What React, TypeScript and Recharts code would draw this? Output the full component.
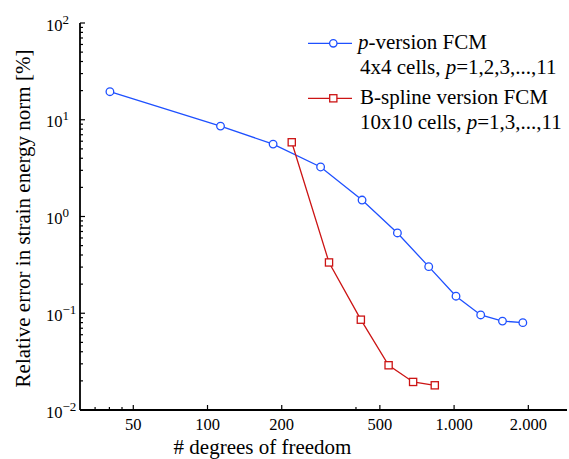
import React from 'react';
import { LineChart, Line, XAxis, YAxis, Customized } from 'recharts';

// p-version FCM, 4x4 cells, p=1..11
const pDof = [40.2, 112.9, 184.5, 287.5, 423.4, 589, 789, 1018, 1282, 1571, 1900];
const pErr = [19.5, 8.6, 5.6, 3.25, 1.48, 0.676, 0.303, 0.15, 0.096, 0.083, 0.08];
// B-spline version FCM, 10x10 cells, p=1,3,...,11
const bDof = [219.6, 311, 418.6, 542.5, 682, 835];
const bErr = [5.85, 0.335, 0.0858, 0.029, 0.0195, 0.018];

const xMajorTicks = [50, 100, 200, 500, 1000, 2000];
const xMajorLabels = ['50', '100', '200', '500', '1.000', '2.000'];
const xMinorTicks = [35, 40, 45, 400];
const yMajorTicks = [0.01, 0.1, 1, 10, 100];
const yExponents = ['\u22122', '\u22121', '0', '1', '2'];
const yMantissas = [2, 3, 4, 5, 6, 7, 8, 9];

const BLUE = '#1e50ff';
const RED = '#cc1414';
const FONT = "'Liberation Serif', Tinos, 'Times New Roman', Times, 'DejaVu Serif', serif";
const TXT = { fontFamily: FONT };

const pData = pDof.map((x, i) => ({ x, y: pErr[i] }));
const bData = bDof.map((x, i) => ({ x, y: bErr[i] }));

const yMinorTicks: number[] = [];
for (let d = 0; d < yMajorTicks.length - 1; d++) {
  for (const m of yMantissas) yMinorTicks.push(Number((yMajorTicks[d] * m).toPrecision(3)));
}
const xAllTicks = [...xMajorTicks, ...xMinorTicks].sort((a, b) => a - b);
const yAllTicks = [...yMajorTicks, ...yMinorTicks].sort((a, b) => a - b);

const isMajor = (arr: number[], v: number) => arr.some((t) => Math.abs(t - v) / t < 1e-6);

const BottomTick = (props: any) => {
  const { x, y, payload } = props;
  const v = payload.value;
  const idx = xMajorTicks.findIndex((t) => Math.abs(t - v) / t < 1e-6);
  const major = idx >= 0;
  return (
    <g>
      <line x1={x} x2={x} y1={y} y2={y - (major ? 5 : 3)} stroke="#000" strokeWidth={1.2} />
      {major && (
        <text x={x} y={y + 20} textAnchor="middle" fontSize={16.5} style={TXT} fill="#000">
          {xMajorLabels[idx]}
        </text>
      )}
    </g>
  );
};

const TopTick = (props: any) => {
  const { x, y, payload } = props;
  const major = isMajor(xMajorTicks, payload.value);
  return <line x1={x} x2={x} y1={y} y2={y + (major ? 5 : 3)} stroke="#000" strokeWidth={1.2} />;
};

const LeftTick = (props: any) => {
  const { x, y, payload } = props;
  const v = payload.value;
  const idx = yMajorTicks.findIndex((t) => Math.abs(t - v) / t < 1e-6);
  const major = idx >= 0;
  return (
    <g>
      <line x1={x} x2={x + (major ? 5 : 3)} y1={y} y2={y} stroke="#000" strokeWidth={1.2} />
      {major && (
        <text x={x - 34} y={y + 7.5} textAnchor="start" fontSize={16.5} style={TXT} fill="#000">
          10
          <tspan fontSize={13} dy={-7}>
            {yExponents[idx]}
          </tspan>
        </text>
      )}
    </g>
  );
};

const RightTick = (props: any) => {
  const { x, y, payload } = props;
  const major = isMajor(yMajorTicks, payload.value);
  return (
    <line
      x1={x}
      x2={x - (major ? 5 : 3)}
      y1={y}
      y2={y}
      stroke={major ? '#000' : '#c8c8c8'}
      strokeWidth={1.2}
    />
  );
};

const SquareDot = (props: any) => {
  const { cx, cy, index } = props;
  return (
    <rect
      key={`sq-${index}`}
      x={cx - 3.6}
      y={cy - 3.6}
      width={7.2}
      height={7.2}
      fill="#fff"
      stroke={RED}
      strokeWidth={1.3}
    />
  );
};

const Overlay = () => (
  <g style={TXT} fill="#000">
    {/* legend */}
    <line x1={308} x2={352} y1={43.3} y2={43.3} stroke={BLUE} strokeWidth={1.3} />
    <circle cx={333.3} cy={43.3} r={3.7} fill="#fff" stroke={BLUE} strokeWidth={1.3} />
    <text x={358} y={49} fontSize={21} style={TXT}>
      <tspan fontStyle="italic">p</tspan>-version FCM
    </text>
    <text x={360} y={74} fontSize={21} style={TXT}>
      4x4 cells, <tspan fontStyle="italic">p</tspan>=1,2,3,...,11
    </text>
    <line x1={308} x2={352} y1={98.3} y2={98.3} stroke={RED} strokeWidth={1.3} />
    <rect x={329.7} y={94.7} width={7.2} height={7.2} fill="#fff" stroke={RED} strokeWidth={1.3} />
    <text x={360} y={104} fontSize={21} style={TXT}>
      B-spline version FCM
    </text>
    <text x={360} y={129} fontSize={21} style={TXT}>
      10x10 cells, <tspan fontStyle="italic">p</tspan>=1,3,...,11
    </text>
    {/* axis titles */}
    <text x={262.5} y={454} fontSize={21} textAnchor="middle" style={TXT}>
      # degrees of freedom
    </text>
    <text
      x={29.5}
      y={218.5}
      fontSize={21}
      textAnchor="middle"
      style={TXT}
      transform="rotate(-90, 29.5, 218.5)"
    >
      Relative error in strain energy norm [%]
    </text>
  </g>
);

export default function App() {
  return (
    <div style={{ position: 'absolute', left: 0, top: 0, width: 569, height: 459, background: '#fff' }}>
      <LineChart width={569} height={459} margin={{ top: 23, right: 2, bottom: 0, left: 0 }}>
        <XAxis
          xAxisId="bottom"
          dataKey="x"
          type="number"
          scale="log"
          domain={[30.4, 2870]}
          allowDataOverflow
          ticks={xAllTicks}
          interval={0}
          height={49}
          tickSize={0}
          tickMargin={0}
          tickLine={false}
          axisLine={{ stroke: '#000', strokeWidth: 1.8 }}
          tick={<BottomTick />}
        />
        <XAxis
          xAxisId="top"
          orientation="top"
          dataKey="x"
          type="number"
          scale="log"
          domain={[30.4, 2870]}
          allowDataOverflow
          ticks={xAllTicks}
          interval={0}
          height={0}
          tickSize={0}
          tickMargin={0}
          tickLine={false}
          axisLine={{ stroke: '#000', strokeWidth: 1.8 }}
          tick={<TopTick />}
        />
        <YAxis
          yAxisId="left"
          dataKey="y"
          type="number"
          scale="log"
          domain={[0.01, 100]}
          allowDataOverflow
          ticks={yAllTicks}
          interval={0}
          width={80}
          tickSize={0}
          tickMargin={0}
          tickLine={false}
          axisLine={{ stroke: '#000', strokeWidth: 1.8 }}
          tick={<LeftTick />}
        />
        <YAxis
          yAxisId="right"
          orientation="right"
          dataKey="y"
          type="number"
          scale="log"
          domain={[0.01, 100]}
          allowDataOverflow
          ticks={yAllTicks}
          interval={0}
          width={0}
          tickSize={0}
          tickMargin={0}
          tickLine={false}
          axisLine={{ stroke: '#c8c8c8', strokeWidth: 1, strokeDasharray: '2 2' }}
          tick={<RightTick />}
        />
        <Line
          xAxisId="bottom"
          yAxisId="left"
          data={pData}
          dataKey="y"
          stroke={BLUE}
          strokeWidth={1.3}
          dot={{ r: 3.8, fill: '#fff', stroke: BLUE, strokeWidth: 1.3 }}
          isAnimationActive={false}
        />
        <Line
          xAxisId="bottom"
          yAxisId="left"
          data={bData}
          dataKey="y"
          stroke={RED}
          strokeWidth={1.3}
          dot={<SquareDot />}
          isAnimationActive={false}
        />
        <Customized component={<Overlay />} />
      </LineChart>
    </div>
  );
}
